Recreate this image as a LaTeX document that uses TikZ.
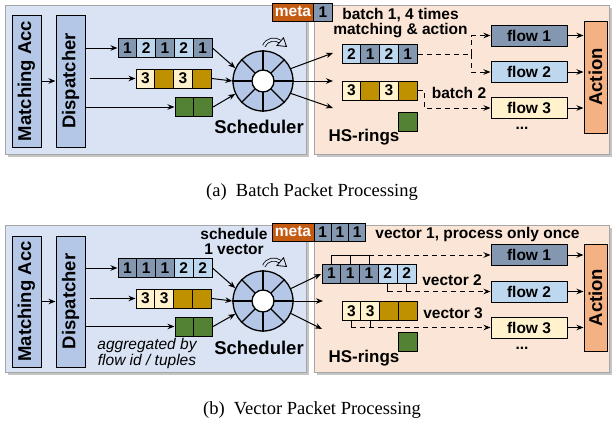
\documentclass[tikz,border=0pt]{standalone}
\usepackage{fontspec}
\usepackage{graphicx}
\newfontfamily\hvfont{Liberation Sans}
\newfontfamily\capfamily{Liberation Serif}
\usetikzlibrary{arrows.meta,shadows}
\definecolor{panelblue}{HTML}{DAE3F3}
\definecolor{panelpeach}{HTML}{FBE5D6}
\definecolor{boxblue}{HTML}{B4C7E7}
\definecolor{pktdark}{HTML}{8497B0}
\definecolor{pktlight}{HTML}{BDD7EE}
\definecolor{pktcream}{HTML}{FFF2CC}
\definecolor{pktolive}{HTML}{BF9000}
\definecolor{pktgreen}{HTML}{548235}
\definecolor{metaorange}{HTML}{C55A11}
\definecolor{actorange}{HTML}{F4B183}
\newcommand\bigfont{\hvfont\bfseries\fontsize{18.5}{20}\selectfont}
\newcommand\ringfont{\hvfont\bfseries\fontsize{17}{18}\selectfont}
\newcommand\midfont{\hvfont\bfseries\fontsize{15.5}{15}\selectfont}
\newcommand\itfont{\hvfont\itshape\fontsize{15.5}{14}\selectfont}
\newcommand\capfont{\capfamily\fontsize{18.5}{20}\selectfont}

\begin{document}
\begin{tikzpicture}[x=1pt, y=-1pt, line width=1pt,
	panel/.style={draw=black!35, line width=0.8pt, drop shadow={shadow xshift=3pt, shadow yshift=-3pt, fill=black!45}},
	unit/.style={draw, fill=boxblue, minimum width=29, font=\bigfont, inner sep=0},
	cell/.style={draw, minimum width=18.8, minimum height=19, inner sep=0, font=\midfont},
	flow/.style={draw, minimum width=76, minimum height=21, inner sep=0, font=\midfont},
	act/.style={draw, fill=actorange, minimum width=23, font=\bigfont, inner sep=0},
	wheel/.style={circle, draw, line width=1.3pt, fill=boxblue, minimum size=60, inner sep=0},
	hub/.style={circle, draw, line width=1.3pt, fill=white, minimum size=22, inner sep=0},
	meta/.style={draw, fill=metaorange, text=white, font=\midfont, minimum width=42, minimum height=18, inner sep=0},
	turn/.style={line width=0.8pt, double=panelblue, double distance=2.2pt},
	arr/.style={-{Stealth[length=7pt,width=5.5pt]}},
	dashline/.style={dash pattern=on 5pt off 4pt},
	dasharr/.style={dash pattern=on 5pt off 4pt, -{Stealth[length=7pt,width=5.5pt]}}]
	\useasboundingbox (0,0) rectangle (613,423);

	% (a) batch
	\draw[panel, fill=panelblue] (5,5) rectangle (306,154);
	\draw[panel, fill=panelpeach] (314,5) rectangle (609,154);

	\node[unit, minimum height=132] (accA) at (26.5,81) {\rotatebox{90}{Matching Acc}};
	\node[unit, minimum height=132] (dispA) at (70.5,81) {\rotatebox{90}{Dispatcher}};
	\draw[arr] (accA.east) -- (dispA.west);

	\foreach \t/\c [count=\i] in {1/pktdark,2/pktlight,1/pktdark,2/pktlight,1/pktdark}
		\node[cell, fill=\c] (qa1-\i) at ({127.4+(\i-1)*18.8},48) {\t};
	\foreach \t/\c [count=\i] in {3/pktcream,{}/pktolive,3/pktcream,{}/pktolive}
		\node[cell, fill=\c] (qa2-\i) at ({145.4+(\i-1)*18.8},78.5) {\t};
	\foreach \i in {1,2}
		\node[cell, fill=pktgreen] (qa3-\i) at ({184.4+(\i-1)*18.8},107) {};
	\draw[arr] (dispA.east |- qa1-1.west) -- (qa1-1.west);
	\draw[arr] ([xshift=4pt]dispA.east |- qa2-1.west) -- (qa2-1.west);
	\draw[arr] (dispA.east |- qa3-1.west) -- (qa3-1.west);

	\node[wheel] (wheelA) at (263,81) {};
	\foreach \a in {0,45,...,315}
		\draw[line width=1.3pt] (wheelA.center) -- (wheelA.\a);
	\node[hub] (hubA) at (wheelA) {};
	\draw[turn] (264,46) .. controls (267,39) and (275,38) .. (280,41.5);
	\draw[line width=0.8pt, fill=panelblue] (283.5,37.8) -- (286.5,46.5) -- (277,45.5) -- cycle;
	\draw[arr] (qa1-5.east) -- (wheelA.155);
	\draw[arr] (qa2-4.east) -- (wheelA.west);
	\draw[arr] (qa3-2.east) -- (wheelA.205);
	\node[font=\bigfont] (schedA) at (259,127) {Scheduler};

	\coordinate (outA1) at (333,53);
	\coordinate (outA2) at (333,81);
	\coordinate (outA3) at (333,108);
	\draw[arr] (wheelA.24) -- (outA1);
	\draw[arr] (wheelA.east) -- (outA2);
	\draw[arr] (wheelA.-24) -- (outA3);

	\node[meta] (metaA) at (293,12) {meta};
	\node[cell, fill=pktdark, minimum height=18] (mcA-1) at (323,12) {1};
	\node[font=\midfont, align=center] (batchA1) at (400.5,23.5) {batch 1, 4 times\\matching \& action};

	\foreach \t/\c [count=\i] in {2/pktlight,1/pktdark,2/pktlight,1/pktdark}
		\node[cell, fill=\c] (rb1-\i) at ({351.4+(\i-1)*18.8},54) {\t};
	\foreach \t/\c [count=\i] in {3/pktcream,{}/pktolive,3/pktcream,{}/pktolive}
		\node[cell, fill=\c] (rb2-\i) at ({351.4+(\i-1)*18.8},90.5) {\t};
	\node[cell, fill=pktgreen] (rb3-1) at (408,121.5) {};
	\node[font=\ringfont] (ringsA) at (364,137) {HS-rings};

	\node[flow, fill=pktdark] (flowA1) at (529,35.5) {flow 1};
	\node[flow, fill=pktlight] (flowA2) at (529,72) {flow 2};
	\node[flow, fill=pktcream] (flowA3) at (529,108) {flow 3};
	\node[font=\midfont] (dotsA) at (522,128) {...};
	\node[act, minimum height=112] (actA) at (595.5,77) {\rotatebox{90}{Action}};
	\foreach \i in {1,2,3}
		\draw[arr] (flowA\i.east) -- (flowA\i.east -| actA.west);

	\coordinate (forkA) at (471,54);
	\draw[dashline] (rb1-4.east) -- (forkA);
	\draw[dasharr] (forkA) |- (flowA1.west);
	\draw[dasharr] (forkA) |- (flowA2.west);
	\draw[dasharr] (rb2-4.east) -- ++(7,0) |- (flowA3.west);
	\node[font=\midfont] (batchA2) at (459,93) {batch 2};

	\node[font=\capfont] (capA) at (312,192) {(a)\enspace Batch Packet Processing};

	% (b) vector
	\draw[panel, fill=panelblue] (5,225) rectangle (306,372);
	\draw[panel, fill=panelpeach] (314,225) rectangle (609,372);

	\node[unit, minimum height=131] (accB) at (26.5,301.5) {\rotatebox{90}{Matching Acc}};
	\node[unit, minimum height=131] (dispB) at (70.5,301.5) {\rotatebox{90}{Dispatcher}};
	\draw[arr] (accB.east) -- (dispB.west);

	\foreach \t/\c [count=\i] in {1/pktdark,1/pktdark,1/pktdark,2/pktlight,2/pktlight}
		\node[cell, fill=\c] (qb1-\i) at ({127.4+(\i-1)*18.8},268) {\t};
	\foreach \t/\c [count=\i] in {3/pktcream,3/pktcream,{}/pktolive,{}/pktolive}
		\node[cell, fill=\c] (qb2-\i) at ({145.4+(\i-1)*18.8},298.5) {\t};
	\foreach \i in {1,2}
		\node[cell, fill=pktgreen] (qb3-\i) at ({184.4+(\i-1)*18.8},326.5) {};
	\draw[arr] (dispB.east |- qb1-1.west) -- (qb1-1.west);
	\draw[arr] ([xshift=4pt]dispB.east |- qb2-1.west) -- (qb2-1.west);
	\draw[arr] (dispB.east |- qb3-1.west) -- (qb3-1.west);
	\node[font=\itfont, align=center] (aggrB) at (147,353.5) {aggregated by\\flow id / tuples};

	\node[wheel] (wheelB) at (263,301) {};
	\foreach \a in {0,45,...,315}
		\draw[line width=1.3pt] (wheelB.center) -- (wheelB.\a);
	\node[hub] (hubB) at (wheelB) {};
	\draw[turn] (264,266) .. controls (267,259) and (275,258) .. (280,261.5);
	\draw[line width=0.8pt, fill=panelblue] (283.5,257.8) -- (286.5,266.5) -- (277,265.5) -- cycle;
	\draw[arr] (qb1-5.east) -- (wheelB.155);
	\draw[arr] (qb2-4.east) -- (wheelB.west);
	\draw[arr] (qb3-2.east) -- (wheelB.205);
	\node[font=\bigfont] (schedB) at (259,348) {Scheduler};
	\node[font=\midfont, align=center] (oneB) at (234,241.5) {schedule\\1 vector};

	\coordinate (outB1) at (321,274);
	\coordinate (outB2) at (323,301);
	\coordinate (outB3) at (322,329);
	\draw[arr] (wheelB.24) -- (outB1);
	\draw[arr] (wheelB.east) -- (outB2);
	\draw[arr] (wheelB.-24) -- (outB3);

	\node[meta] (metaB) at (293,232) {meta};
	\foreach \i in {1,2,3}
		\node[cell, fill=pktdark, minimum width=17.3, minimum height=18] (mcB-\i) at ({322.7+(\i-1)*17.3},232) {1};
	\node[font=\midfont] (vecB1) at (477.5,234) {vector 1, process only once};

	\foreach \t/\c [count=\i] in {1/pktdark,1/pktdark,1/pktdark,2/pktlight,2/pktlight}
		\node[cell, fill=\c] (rv1-\i) at ({331.4+(\i-1)*18.8},273.5) {\t};
	\foreach \t/\c [count=\i] in {3/pktcream,3/pktcream,{}/pktolive,{}/pktolive}
		\node[cell, fill=\c] (rv2-\i) at ({351.4+(\i-1)*18.8},311) {\t};
	\node[cell, fill=pktgreen] (rv3-1) at (408,342) {};
	\node[font=\ringfont] (ringsB) at (364,358) {HS-rings};

	\node[flow, fill=pktdark] (flowB1) at (529,255) {flow 1};
	\node[flow, fill=pktlight] (flowB2) at (529,291.5) {flow 2};
	\node[flow, fill=pktcream] (flowB3) at (529,327.5) {flow 3};
	\node[font=\midfont] (dotsB) at (522,348) {...};
	\node[act, minimum height=107] (actB) at (595.5,297.5) {\rotatebox{90}{Action}};
	\foreach \i in {1,2,3}
		\draw[arr] (flowB\i.east) -- (flowB\i.east -| actB.west);

	\foreach \i in {1,2,3}
		\draw (rv1-\i.north) -- (rv1-\i.north |- flowB1.west);
	\draw (rv1-1.north |- flowB1.west) -- (rv1-3.north |- flowB1.west);
	\draw[dasharr] (rv1-3.north |- flowB1.west) -- (flowB1.west);
	\foreach \i in {4,5}
		\draw (rv1-\i.south) -- (rv1-\i.south |- flowB2.west);
	\draw[dasharr] (rv1-4.south |- flowB2.west) -- (flowB2.west);
	\foreach \i in {1,2}
		\draw (rv2-\i.south) -- (rv2-\i.south |- flowB3.west);
	\draw[dasharr] (rv2-1.south |- flowB3.west) -- (flowB3.west);
	\node[font=\midfont] (vecB2) at (452,280) {vector 2};
	\node[font=\midfont] (vecB3) at (453,313) {vector 3};

	\node[font=\capfont] (capB) at (312,410) {(b)\enspace Vector Packet Processing};
\end{tikzpicture}
\end{document}
